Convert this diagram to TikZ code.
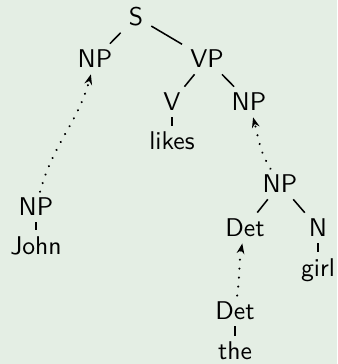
\documentclass[tikz,border=0pt]{standalone}
\usetikzlibrary{arrows.meta}
\definecolor{bg}{RGB}{228,238,228}
\begin{document}
\begin{tikzpicture}[x=0.39pt,y=-0.39pt,
  lbl/.style={inner xsep=3pt,inner ysep=2.3pt,font=\sffamily},
  edge/.style={line width=0.6pt},
  mv/.style={dash pattern=on 0.01pt off 3.5pt,line cap=round,line width=0.9pt,
     -{Stealth[length=4pt,width=3pt,line cap=butt]}}]
\fill[bg] (0,0) rectangle (337,364);
\useasboundingbox (0,0) rectangle (337,364);
\node[lbl] (s) at (136,17) {S};
\node[lbl] (np1) at (95,59) {NP};
\node[lbl] (vp) at (207,59) {VP};
\node[lbl] (v) at (172,102) {V};
\node[lbl] (np2) at (249,102) {NP};
\node[lbl] (likes) at (172,141) {likes};
\node[lbl] (np3) at (280,184) {NP};
\node[lbl] (det1) at (245,228) {Det};
\node[lbl] (n) at (318,228) {N};
\node[lbl] (girl) at (318,270) {girl};
\node[lbl] (det2) at (235,311) {Det};
\node[lbl] (the) at (235,351) {the};
\node[lbl] (np4) at (36,207) {NP};
\node[lbl] (john) at (36,246) {John};
\draw[edge] (s) -- (np1);
\draw[edge] (s) -- (vp);
\draw[edge] (vp) -- (v);
\draw[edge] (vp) -- (np2);
\draw[edge] (v) -- (likes);
\draw[edge] (np3) -- (det1);
\draw[edge] (np3) -- (n);
\draw[edge] (n) -- (girl);
\draw[edge] (det2) -- (the);
\draw[edge] (np4) -- (john);
\draw[mv] (np4) to[out=75,in=-105] (np1);
\draw[mv] (np3) to[out=122,in=-75] (np2);
\draw[mv] (det2) to[out=82,in=-100] (det1);
\end{tikzpicture}
\end{document}
